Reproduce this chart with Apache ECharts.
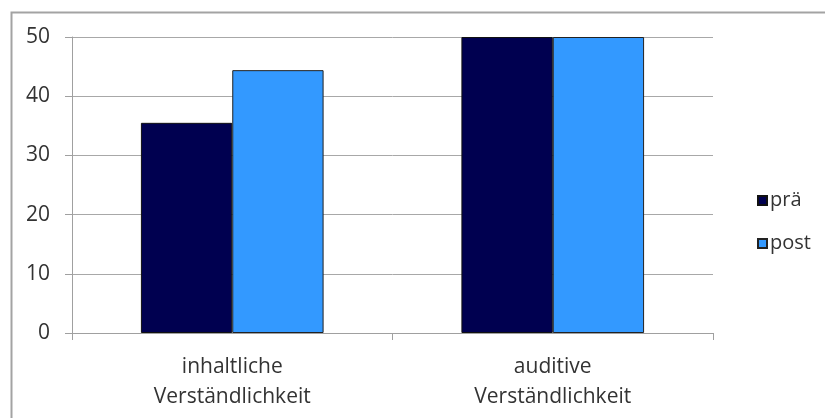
<!DOCTYPE html>
<html>
<head>
<meta charset="utf-8">
<script src="https://cdn.jsdelivr.net/npm/echarts@6/dist/echarts.min.js"></script>
<style>
  html, body { margin: 0; padding: 0; background: #fff; }
  #main { width: 825px; height: 418px; }
</style>
</head>
<body>
<div id="main"></div>
<script>
// Daten
var categories = ['inhaltliche\nVerständlichkeit', 'auditive\nVerständlichkeit'];
var seriesNames = ['prä', 'post'];
var praeValues = [35.5, 50];
var postValues = [44.4, 50];
var yTicks = [0, 10, 20, 30, 40, 50];

var fontName = '"Open Sans", "Liberation Sans", sans-serif';
var myChart = echarts.init(document.getElementById('main'));
option = {
    animation: false,
    backgroundColor: '#fff',
    color: ['#000050', '#3399ff'],
    graphic: [{
        type: 'rect',
        left: 9, top: 10,
        shape: { width: 900, height: 500 },
        style: { fill: 'none', stroke: '#a3a3a3', lineWidth: 2 },
        silent: true
    }],
    grid: { left: 72, right: 112, top: 37, bottom: 85 },
    legend: {
        orient: 'vertical',
        left: 752,
        top: 184,
        itemWidth: 9,
        itemHeight: 9,
        itemGap: 20,
        icon: 'rect',
        data: seriesNames,
        textStyle: { fontFamily: fontName, fontSize: 20, color: '#333', lineHeight: 23, padding: [0, 0, 0, -2] }
    },
    xAxis: {
        type: 'category',
        data: categories,
        axisLine: { lineStyle: { color: '#a0a0a0', width: 1 } },
        axisTick: { show: true, length: 7, lineStyle: { color: '#a0a0a0' } },
        axisLabel: { fontFamily: fontName, fontSize: 21, color: '#333', lineHeight: 30, margin: 19 }
    },
    yAxis: {
        type: 'value',
        min: yTicks[0],
        max: yTicks[yTicks.length - 1],
        interval: 10,
        axisLine: { show: true, lineStyle: { color: '#a0a0a0' } },
        axisTick: { show: true, length: 7, lineStyle: { color: '#a0a0a0' } },
        splitLine: { lineStyle: { color: '#a8a8a8', width: 1 } },
        axisLabel: { fontFamily: fontName, fontSize: 21, color: '#333', margin: 22 }
    },
    series: [
        {
            name: seriesNames[0],
            type: 'bar',
            data: praeValues,
            barGap: '0%',
            barCategoryGap: '43%',
            itemStyle: { borderColor: '#111', borderWidth: 1 }
        },
        {
            name: seriesNames[1],
            type: 'bar',
            data: postValues,
            barGap: '0%',
            barCategoryGap: '43%',
            itemStyle: { borderColor: '#222', borderWidth: 1 }
        }
    ]
};
myChart.setOption(option);
</script>
</body>
</html>
